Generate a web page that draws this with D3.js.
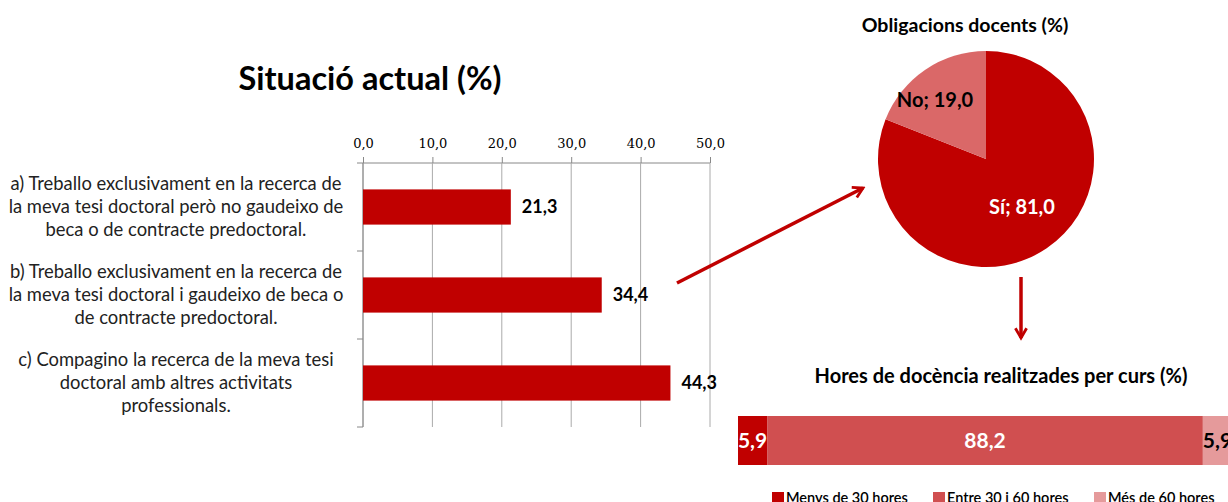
<!DOCTYPE html>
<html>
<head>
<meta charset="utf-8">
<script src="https://cdn.jsdelivr.net/npm/d3@7"></script>
<style>
  body { margin: 0; background: #fff; }
  svg { display: block; font-family: Lato, "Open Sans", sans-serif; }
</style>
</head>
<body>
<script>
// bar chart data
var situacioLabels = [
  ["a) Treballo exclusivament en la recerca de", "la meva tesi doctoral però no gaudeixo de", "beca o de contracte predoctoral."],
  ["b) Treballo exclusivament en la recerca de", "la meva tesi doctoral i gaudeixo de beca o", "de contracte predoctoral."],
  ["c) Compagino la recerca de la meva tesi", "doctoral amb altres activitats", "professionals."]
];
var situacioValues = [21.3, 34.4, 44.3];
var situacioTicks = [0, 10, 20, 30, 40, 50];

// pie data
var pieLabels = ["Sí", "No"];
var pieValues = [81.0, 19.0];

// stacked bar data
var horesLabels = ["Menys de 30 hores", "Entre 30 i 60 hores", "Més de 60 hores"];
var horesValues = [5.9, 88.2, 5.9];

var red = "#C00000";
var fmt = function(v) { return d3.format(".1f")(v).replace(".", ","); };

var svg = d3.select("body").append("svg")
  .attr("width", 1228)
  .attr("height", 502);

var defs = svg.append("defs");
defs.append("marker")
  .attr("id", "head")
  .attr("viewBox", "0 0 10 10")
  .attr("refX", 8).attr("refY", 5)
  .attr("markerWidth", 4).attr("markerHeight", 4)
  .attr("orient", "auto")
  .append("path")
  .attr("d", "M1,1 L8,5 L1,9")
  .attr("fill", "none")
  .attr("stroke", red)
  .attr("stroke-width", 2);

// ---- bar chart ----
var bx = d3.scaleLinear().domain([0, 50]).range([363, 710]);
var by = d3.scaleBand().domain(d3.range(3)).range([163, 427]).paddingInner(0.6).paddingOuter(0.3);

svg.append("text")
  .attr("x", 370).attr("y", 90)
  .attr("text-anchor", "middle")
  .attr("font-size", 32.5).attr("font-weight", "bold")
  .text("Situació actual (%)");

var gx = svg.append("g")
  .attr("transform", "translate(0,163)")
  .call(d3.axisTop(bx).tickValues(situacioTicks).tickSize(6).tickPadding(9).tickFormat(fmt));
gx.select(".domain").attr("stroke", "#888").attr("d", "M363,0H710");
gx.selectAll(".tick line").attr("stroke", "#888").attr("y1", 0).attr("y2", -6);
gx.selectAll("text").attr("font-family", "DejaVu Serif").attr("font-size", 13).attr("fill", "#000");

// vertical gridlines
svg.append("g").selectAll("line").data(situacioTicks).enter().append("line")
  .attr("x1", function(d) { return bx(d); }).attr("x2", function(d) { return bx(d); })
  .attr("y1", 163).attr("y2", 427)
  .attr("stroke", "#aaa");

// y axis with ticks between categories
var ybound = [163, 251, 339, 427];
svg.append("line").attr("x1", 363).attr("x2", 363).attr("y1", 163).attr("y2", 427).attr("stroke", "#888");
svg.append("g").selectAll("line").data(ybound).enter().append("line")
  .attr("x1", 357).attr("x2", 363)
  .attr("y1", function(d) { return d; }).attr("y2", function(d) { return d; })
  .attr("stroke", "#888");

svg.append("g").selectAll("rect").data(situacioValues).enter().append("rect")
  .attr("x", bx(0))
  .attr("y", function(d, i) { return by(i); })
  .attr("width", function(d) { return bx(d) - bx(0); })
  .attr("height", by.bandwidth())
  .attr("fill", red);

svg.append("g").selectAll("text").data(situacioValues).enter().append("text")
  .attr("x", function(d) { return bx(d) + 11; })
  .attr("y", function(d, i) { return by(i) + by.bandwidth() / 2 + 6; })
  .attr("font-size", 18).attr("font-weight", "bold")
  .text(function(d) { return fmt(d); });

var cat = svg.append("g").selectAll("text").data(situacioLabels).enter().append("text")
  .attr("text-anchor", "middle")
  .attr("font-size", 18.4)
  .attr("fill", "#222");
cat.selectAll("tspan").data(function(d, i) { return d.map(function(s) { return {s: s, i: i}; }); })
  .enter().append("tspan")
  .attr("x", 176)
  .attr("y", function(d, j) { return by(d.i) + by.bandwidth() / 2 + (j - 1) * 23 + 6; })
  .text(function(d) { return d.s; });

// arrows
svg.append("line")
  .attr("x1", 677).attr("y1", 283).attr("x2", 863).attr("y2", 188)
  .attr("stroke", red).attr("stroke-width", 3.5)
  .attr("marker-end", "url(#head)");
svg.append("line")
  .attr("x1", 1021).attr("y1", 277).attr("x2", 1021).attr("y2", 338)
  .attr("stroke", red).attr("stroke-width", 3.5)
  .attr("marker-end", "url(#head)");

// ---- pie ----
svg.append("text")
  .attr("x", 965).attr("y", 32)
  .attr("text-anchor", "middle")
  .attr("font-size", 19.5).attr("font-weight", "bold")
  .text("Obligacions docents (%)");

var pieColor = d3.scaleOrdinal().domain(pieLabels).range([red, "#DA6868"]);
var pie = d3.pie().sort(null);
var arc = d3.arc().innerRadius(0).outerRadius(108);
var pg = svg.append("g").attr("transform", "translate(986,159)");
pg.selectAll("path").data(pie(pieValues)).enter().append("path")
  .attr("d", arc)
  .attr("fill", function(d, i) { return pieColor(pieLabels[i]); });

var pieLabelPos = [[36, 55], [-51, -52]];
pg.selectAll("text").data(pie(pieValues)).enter().append("text")
  .attr("x", function(d, i) { return pieLabelPos[i][0]; })
  .attr("y", function(d, i) { return pieLabelPos[i][1]; })
  .attr("text-anchor", "middle")
  .attr("font-size", 20).attr("font-weight", "bold")
  .attr("fill", function(d, i) { return i === 0 ? "#fff" : "#000"; })
  .text(function(d, i) { return pieLabels[i] + "; " + fmt(d.data); });

// ---- stacked bar ----
svg.append("text")
  .attr("x", 1001).attr("y", 383)
  .attr("text-anchor", "middle")
  .attr("font-size", 20).attr("font-weight", "bold")
  .text("Hores de docència realitzades per curs (%)");

var sx = d3.scaleLinear().domain([0, 100]).range([738, 1232]);
var horesColor = d3.scaleOrdinal().domain(horesLabels).range([red, "#D04F50", "#E59A9B"]);
var stacked = d3.cumsum(horesValues);
var hg = svg.append("g");
hg.selectAll("rect").data(horesValues).enter().append("rect")
  .attr("x", function(d, i) { return sx(stacked[i] - d); })
  .attr("y", 416)
  .attr("width", function(d) { return sx(d) - sx(0); })
  .attr("height", 49)
  .attr("fill", function(d, i) { return horesColor(horesLabels[i]); });
hg.selectAll("text").data(horesValues).enter().append("text")
  .attr("x", function(d, i) { return sx(stacked[i] - d / 2); })
  .attr("y", 448)
  .attr("text-anchor", "middle")
  .attr("font-size", 21).attr("font-weight", "bold")
  .attr("fill", function(d, i) { return i === 2 ? "#000" : "#fff"; })
  .text(function(d) { return fmt(d); });

// legend (cut by the bottom edge, as in the original)
var legX = [772, 933, 1094];
var lg = svg.append("g").selectAll("g").data(horesLabels).enter().append("g")
  .attr("transform", function(d, i) { return "translate(" + legX[i] + ",492)"; });
lg.append("rect").attr("width", 12).attr("height", 12)
  .attr("fill", function(d) { return horesColor(d); });
lg.append("text").attr("x", 14).attr("y", 11)
  .attr("font-size", 14.5).attr("font-weight", 600)
  .text(function(d) { return d; });
</script>
</body>
</html>
